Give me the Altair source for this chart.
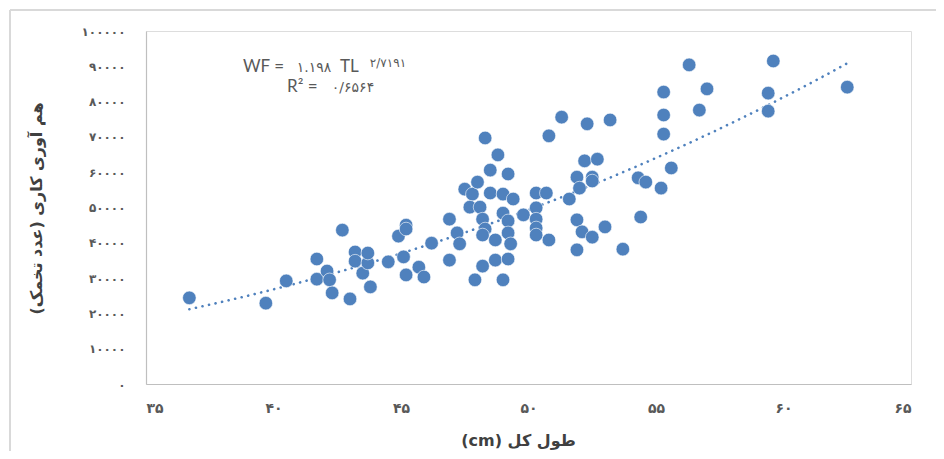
import altair as alt
import pandas as pd

# ---- data ----
length_cm = [36.7, 39.7, 40.5, 41.7, 41.7, 42.1, 42.2, 42.3, 42.7, 43.0,
             43.2, 43.2, 43.5, 43.7, 43.7, 43.8, 44.5, 44.9, 45.2, 45.2,
             45.1, 45.2, 45.7, 45.9, 46.2, 46.9, 46.9, 47.2, 47.3, 47.5,
             47.8, 47.7, 47.9, 48.0, 48.1, 48.2, 48.3, 48.2, 48.2, 48.3,
             48.5, 48.5, 48.8, 48.7, 48.7, 49.0, 49.2, 49.2, 49.3, 49.2,
             49.0, 49.0, 49.2, 49.4, 49.8, 50.3, 50.3, 50.3, 50.3, 50.3,
             50.7, 50.8, 50.8, 51.3, 51.6, 51.9, 51.9, 51.9, 52.0, 52.2,
             52.1, 52.3, 52.5, 52.5, 52.5, 52.7, 53.0, 53.2, 53.7, 54.3,
             54.4, 54.6, 55.2, 55.3, 55.3, 55.3, 55.6, 56.3, 56.7, 57.0,
             59.4, 59.4, 59.6, 62.5]
fecundity = [24400, 22900, 29200, 35400, 29700, 32000, 29500, 25800, 43600, 24100,
             37400, 34800, 31400, 34300, 37100, 27500, 34600, 41900, 45000, 43900,
             36000, 30900, 33100, 30300, 39900, 46700, 35100, 42800, 39700, 55200,
             53800, 50100, 29500, 57200, 50100, 46700, 43900, 42200, 33400, 69700,
             60600, 54100, 64900, 40800, 35100, 48400, 46200, 42800, 39700, 35400,
             29500, 53800, 59500, 52400, 47900, 54100, 49900, 46700, 44200, 42200,
             54100, 70300, 40800, 75600, 52400, 58600, 46500, 38000, 55500, 63200,
             43100, 73700, 58600, 57500, 41600, 63700, 44500, 74800, 38200, 58400,
             47300, 57200, 55500, 82700, 76200, 70800, 61200, 90400, 77600, 83600,
             82400, 77300, 91500, 84100]

x_ticks = [35, 40, 45, 50, 55, 60, 65]
y_ticks = [0, 10000, 20000, 30000, 40000, 50000, 60000, 70000, 80000, 90000, 100000]

FA = str.maketrans("0123456789", "۰۱۲۳۴۵۶۷۸۹")
x_tick_labels = [str(v).translate(FA) for v in x_ticks]
y_tick_labels = [str(v).translate(FA) for v in y_ticks]

eq_wf = "WF ="
eq_coef = "۱.۱۹۸"
eq_tl = "TL"
eq_exp = "۲/۷۱۹۱"
eq_r = "R² ="
eq_r2 = "۰/۶۵۶۴"
x_title = "(cm) طول کل"
y_title = "هم آوری کاری (عدد تخمک)\u200f"

df = pd.DataFrame({"length": length_cm, "fecundity": fecundity})


def label_expr(values, labels):
    parts = [f"datum.value == {v} ? '{l}'" for v, l in zip(values, labels)]
    return " : ".join(parts) + " : datum.label"


BLUE = "#4F81BD"
GRAY_TXT = "#595959"

xscale = alt.Scale(domain=[35, 65], nice=False, zero=False)
yscale = alt.Scale(domain=[0, 100000], nice=False)

x_axis = alt.Axis(values=x_ticks, labelExpr=label_expr(x_ticks, x_tick_labels),
                  title=x_title, grid=False, ticks=False, tickSize=0,
                  domainColor="#BFBFBF", domainWidth=1.2, labelOverlap=False,
                  labelFont="DejaVu Sans", labelFontSize=14, labelColor=GRAY_TXT,
                  labelFontWeight="bold", labelPadding=17,
                  titleFont="DejaVu Sans", titleFontSize=16, titleFontWeight="bold",
                  titleColor="#404040", titlePadding=17, titleX=372)
y_axis = alt.Axis(values=y_ticks, labelExpr=label_expr(y_ticks, y_tick_labels),
                  title=y_title, grid=False, ticks=False, tickSize=0,
                  domainColor="#BFBFBF", domainWidth=1.2, labelOverlap=False,
                  labelFont="DejaVu Sans", labelFontSize=12, labelColor=GRAY_TXT,
                  labelFontWeight="bold", labelPadding=21, labelBound=False,
                  titleFont="DejaVu Sans", titleFontSize=16, titleFontWeight="bold",
                  titleColor="#404040", titleAngle=270, titleBaseline="middle",
                  titleAlign="center", titleX=-110, titleY=177)

x_enc = alt.X("length:Q", scale=xscale, axis=x_axis)
y_enc = alt.Y("fecundity:Q", scale=yscale, axis=y_axis)

base = alt.Chart(df)

points = base.mark_circle(size=185, color=BLUE, opacity=1, stroke="white", strokeWidth=0.6).encode(
    x=x_enc, y=y_enc
)

trend = base.transform_regression(
    "length", "fecundity", method="pow", extent=[36.7, 62.5]
).mark_line(color=BLUE, strokeWidth=2.6, strokeDash=[0.1, 6.6], strokeCap="round").encode(
    x=x_enc, y=y_enc
)


def label(text, x, y, size, align="left", font="Lato"):
    return alt.Chart(pd.DataFrame({"t": [text]})).mark_text(
        align=align, baseline="middle", font=font, fontSize=size, color=GRAY_TXT
    ).encode(text="t:N", x=alt.value(x), y=alt.value(y))


texts = [
    label(eq_wf, 97, 36, 17),
    label(eq_coef, 168, 37, 14, align="center", font="DejaVu Sans"),
    label(eq_tl, 194, 36, 17),
    label(eq_exp, 242, 32, 12, align="center", font="DejaVu Sans"),
    label(eq_r, 141, 56, 17),
    label(eq_r2, 207, 57, 14, align="center", font="DejaVu Sans"),
]

border_top = alt.Chart(pd.DataFrame({"a": [0]})).mark_rule(
    color="#D9D9D9", strokeWidth=2, clip=False
).encode(x=alt.value(-136), x2=alt.value(800), y=alt.value(-21))

border_left = alt.Chart(pd.DataFrame({"a": [0]})).mark_rule(
    color="#D9D9D9", strokeWidth=2, clip=False
).encode(x=alt.value(-136), y=alt.value(-21), y2=alt.value(440))

chart = alt.layer(border_top, border_left, trend, points, *texts).properties(
    width=765, height=353,
    autosize=alt.AutoSizeParams(type="none"),
    padding={"left": 138, "top": 23, "right": 25, "bottom": 67},
).configure_view(stroke=None).configure(background="white")

chart.save("out.html", embed_options={"renderer": "svg", "actions": False})
